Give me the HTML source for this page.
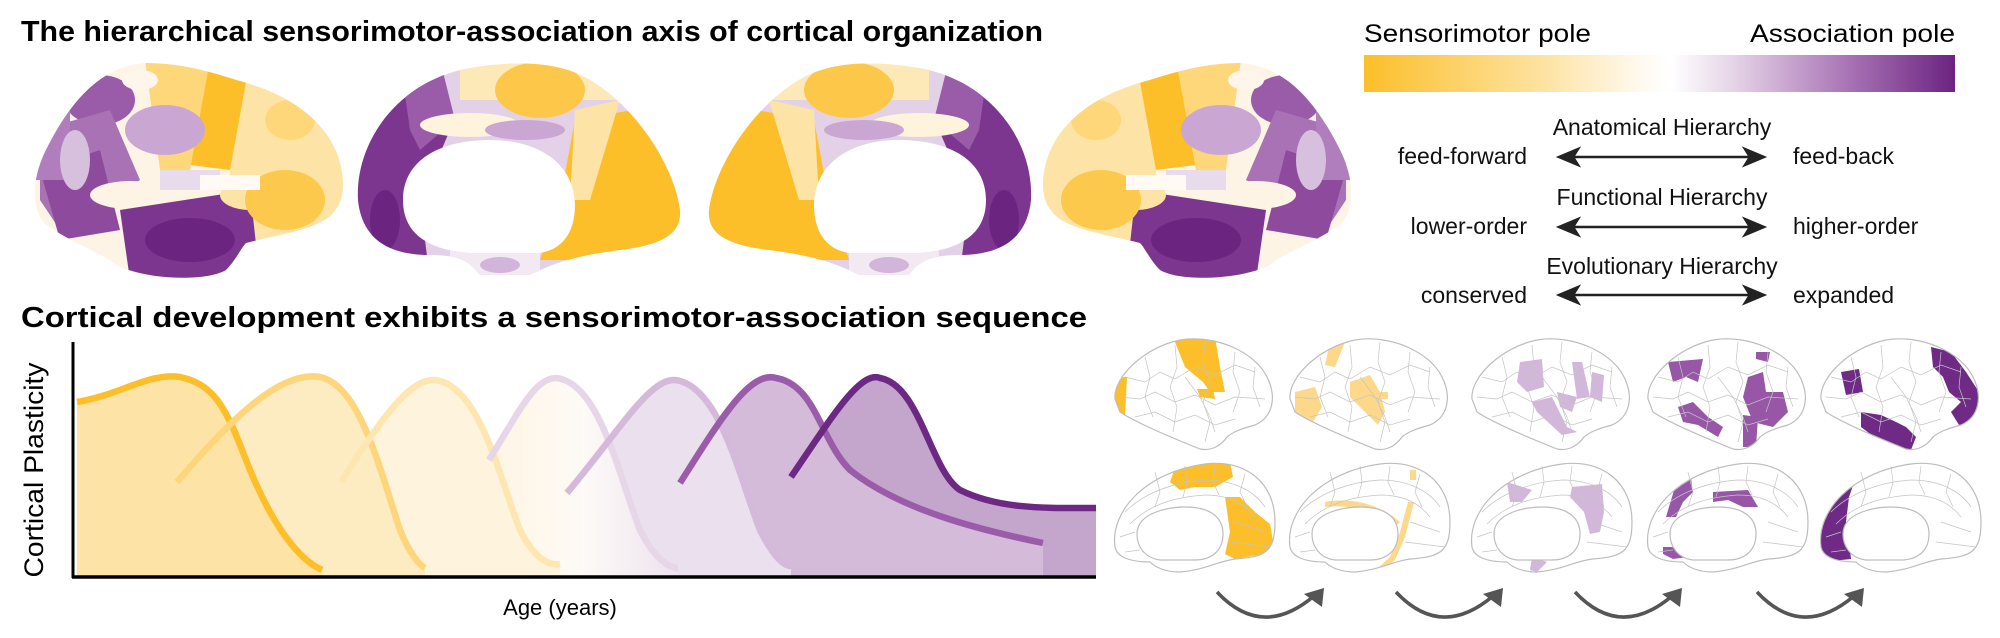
<!DOCTYPE html>
<html><head><meta charset="utf-8"><style>
html,body{margin:0;padding:0;background:#fff;}
svg{display:block;font-family:"Liberation Sans",Arial,sans-serif;}
</style></head><body>
<svg width="2000" height="638" viewBox="0 0 2000 638" xmlns="http://www.w3.org/2000/svg">
<defs>
<linearGradient id="cbar" x1="0" x2="1" y1="0" y2="0">
<stop offset="0" stop-color="#fcbf2a"/><stop offset="0.3" stop-color="#fde2a0"/>
<stop offset="0.47" stop-color="#fffaf0"/><stop offset="0.52" stop-color="#ffffff"/>
<stop offset="0.62" stop-color="#e6d6e8"/><stop offset="0.82" stop-color="#a873b5"/>
<stop offset="1" stop-color="#6b2480"/></linearGradient>
<linearGradient id="g4" x1="0" x2="1"><stop offset="0" stop-color="#fff5e2"/><stop offset="0.5" stop-color="#fdfaf7"/><stop offset="1" stop-color="#ede2ef"/></linearGradient>
<clipPath id="cb1"><path d="M343,183 C341,130 296,95 236,80 C206,70 176,63 146,63 C96,66 66,110 46,150 C31,180 31,210 46,225 C76,245 106,255 116,265 C146,280 206,282 226,270 C236,260 241,248 246,243 C276,235 316,230 331,215 C341,205 343,195 343,183 Z"/></clipPath>
<clipPath id="cb2"><path fill-rule="evenodd" clip-rule="evenodd" d="M358,200 C355,140 400,80 470,68 C520,60 560,62 590,80 C640,110 675,170 680,210 C682,235 660,245 620,250 C580,255 555,262 530,275 L480,275 C470,262 460,255 430,255 C390,255 362,240 358,200 Z M403,200 C403,160 440,140 490,140 C540,140 575,165 575,205 C575,235 560,250 540,253 L470,253 C430,250 403,235 403,200 Z"/></clipPath>
<clipPath id="cl"><path d="M0,62 C-2,40 30,10 65,3 C100,-3 140,15 152,40 C162,60 158,80 140,88 C125,92 118,95 112,100 C105,110 95,114 85,112 C55,100 20,85 5,75 Z"/></clipPath>
<clipPath id="cm"><path clip-rule="evenodd" d="M0,85 C-5,50 30,10 90,2 C130,-3 160,20 160,60 C160,90 150,95 120,97 C100,100 90,108 65,110 C50,110 40,105 35,100 C15,100 2,95 0,85 Z M22,72 C22,50 55,45 70,45 C95,45 108,55 108,72 C108,90 95,98 80,98 L45,98 C30,96 22,85 22,72 Z"/></clipPath>
<g id="latOut"><path d="M0,62 C-2,40 30,10 65,3 C100,-3 140,15 152,40 C162,60 158,80 140,88 C125,92 118,95 112,100 C105,110 95,114 85,112 C55,100 20,85 5,75 Z" fill="none" stroke="#bdbdbd" stroke-width="1.2"/>
<g fill="none" stroke="#c4c4c4" stroke-width="0.7"><path d="M10,40 L30,45 L45,35 L60,42 L80,30 L100,38 L120,28 L140,35"/><path d="M5,60 L25,62 L40,55 L60,65 L80,58 L100,68 L120,60 L150,62"/><path d="M20,80 L40,75 L60,85 L80,78 L100,88 L120,82"/><path d="M30,20 L35,40 L30,60 L38,80"/><path d="M60,8 L62,30 L55,50 L62,70 L58,95"/><path d="M90,5 L88,25 L95,45 L88,65 L95,85 L90,105"/><path d="M120,15 L118,35 L125,55 L118,75"/><path d="M140,30 L138,50 L145,70"/><path d="M70,40 L85,60 L95,80 L100,95"/></g></g>
<g id="medOut"><path fill-rule="evenodd" d="M0,85 C-5,50 30,10 90,2 C130,-3 160,20 160,60 C160,90 150,95 120,97 C100,100 90,108 65,110 C50,110 40,105 35,100 C15,100 2,95 0,85 Z M22,72 C22,50 55,45 70,45 C95,45 108,55 108,72 C108,90 95,98 80,98 L45,98 C30,96 22,85 22,72 Z" fill="none" stroke="#bdbdbd" stroke-width="1.2"/>
<g fill="none" stroke="#c4c4c4" stroke-width="0.7"><path d="M10,50 C30,30 60,20 90,18 C120,18 140,30 150,45"/><path d="M15,62 C35,42 60,35 90,33 C115,33 130,42 140,55"/><path d="M40,10 L45,30 L40,45"/><path d="M70,4 L72,20 L68,35"/><path d="M100,4 L98,20 L104,33"/><path d="M130,12 L125,30 L132,45"/><path d="M5,75 L20,70"/><path d="M120,60 L150,70 M115,80 L155,85"/><path d="M10,90 L25,88"/></g></g>
</defs>

<text x="21" y="41" font-size="29" font-weight="bold" textLength="1022" lengthAdjust="spacingAndGlyphs">The hierarchical sensorimotor-association axis of cortical organization</text>
<text x="21" y="327" font-size="29" font-weight="bold" textLength="1066" lengthAdjust="spacingAndGlyphs">Cortical development exhibits a sensorimotor-association sequence</text>

<text x="1364" y="42" font-size="25" textLength="227" lengthAdjust="spacingAndGlyphs">Sensorimotor pole</text>
<text x="1955" y="42" font-size="25" text-anchor="end" textLength="205" lengthAdjust="spacingAndGlyphs">Association pole</text>
<rect x="1364" y="55" width="591" height="37" fill="url(#cbar)"/>
<g font-size="23" fill="#111">
<text x="1662" y="135" text-anchor="middle">Anatomical Hierarchy</text>
<text x="1527" y="164" text-anchor="end">feed-forward</text>
<text x="1793" y="164">feed-back</text>
<text x="1662" y="205" text-anchor="middle">Functional Hierarchy</text>
<text x="1527" y="234" text-anchor="end">lower-order</text>
<text x="1793" y="234">higher-order</text>
<text x="1662" y="274" text-anchor="middle">Evolutionary Hierarchy</text>
<text x="1527" y="303" text-anchor="end">conserved</text>
<text x="1793" y="303">expanded</text>
</g>
<g stroke="#222" stroke-width="2.5" fill="#222">
<line x1="1565" y1="157" x2="1758" y2="157"/><path d="M1559,157 L1578,149 L1573,157 L1578,165Z"/><path d="M1764,157 L1745,149 L1750,157 L1745,165Z"/>
<line x1="1565" y1="227" x2="1758" y2="227"/><path d="M1559,227 L1578,219 L1573,227 L1578,235Z"/><path d="M1764,227 L1745,219 L1750,227 L1745,235Z"/>
<line x1="1565" y1="295" x2="1758" y2="295"/><path d="M1559,295 L1578,287 L1573,295 L1578,303Z"/><path d="M1764,295 L1745,287 L1750,295 L1745,303Z"/>
</g>

<g id="b1"><g clip-path="url(#cb1)">
<rect x="0" y="40" width="400" height="260" fill="#fdf4e6"/>
<rect x="230" y="60" width="120" height="200" fill="#fde3a6"/>
<path d="M210,60 L250,60 L230,170 L190,165Z" fill="#fcbf2a"/>
<path d="M145,60 L210,60 L190,170 L160,170Z" fill="#fdd77a"/>
<ellipse cx="165" cy="130" rx="40" ry="25" fill="#c9a7d2"/>
<ellipse cx="100" cy="100" rx="35" ry="25" fill="#9a5ca8"/>
<path d="M40,130 L110,110 L140,180 L60,230 L40,200Z" fill="#a972b5"/>
<path d="M40,170 L100,150 L120,230 L60,240Z" fill="#8e4b9e"/>
<rect x="30" y="90" width="40" height="90" fill="#b07ebd"/>
<ellipse cx="130" cy="195" rx="40" ry="14" fill="#fdf4e6"/>
<path d="M120,210 L250,190 L260,280 L130,280Z" fill="#7d3690"/>
<ellipse cx="190" cy="240" rx="45" ry="22" fill="#6b2480"/>
<ellipse cx="250" cy="195" rx="30" ry="15" fill="#fde3a6"/>
<rect x="160" y="170" width="60" height="20" fill="#e8dbeb"/>
<ellipse cx="285" cy="200" rx="40" ry="30" fill="#fcc94d"/>
<rect x="200" y="175" width="60" height="15" fill="#fffaf3"/>
<ellipse cx="290" cy="120" rx="25" ry="20" fill="#fdd77a"/>
<ellipse cx="75" cy="160" rx="15" ry="30" fill="#d7c0de"/>
<ellipse cx="140" cy="80" rx="18" ry="10" fill="#fef6ea"/>
</g></g>
<g id="b2"><g clip-path="url(#cb2)">
<rect x="350" y="60" width="340" height="220" fill="#e3d2e7"/>
<path d="M355,60 L420,60 L450,130 L420,200 L430,280 L350,280Z" fill="#7d3690"/>
<path d="M400,60 L440,60 L455,120 L420,150 L410,130Z" fill="#9a5ca8"/>
<rect x="460" y="60" width="200" height="40" fill="#fde9b8"/>
<ellipse cx="540" cy="90" rx="45" ry="28" fill="#fdc84a"/>
<ellipse cx="470" cy="125" rx="50" ry="12" fill="#fef3dc"/>
<ellipse cx="525" cy="130" rx="40" ry="10" fill="#c9a7d2"/>
<path d="M575,120 L690,100 L690,260 L540,260 L560,200Z" fill="#fcbf2a"/>
<path d="M575,110 L620,100 L590,200 L570,200Z" fill="#fde3a6"/>
<rect x="450" y="250" width="90" height="30" fill="#f2e9f3"/>
<ellipse cx="500" cy="265" rx="20" ry="8" fill="#d2b6da"/>
<ellipse cx="385" cy="220" rx="15" ry="30" fill="#6b2480"/>
</g></g>
<use href="#b1" transform="translate(1386,0) scale(-1,1)"/>
<use href="#b2" transform="translate(1389,0) scale(-1,1)"/>

<g>
<path d="M800,478 C830,420 860,370 883,378 C920,385 930,470 960,490 C1000,510 1050,508 1096,508 L1096,576 L800,576Z" fill="#c4a6cd"/>
<path d="M688,485 C720,420 750,370 776,378 C816,385 820,440 850,470 C900,510 980,530 1043,543 L1043,576 L688,576Z" fill="#d4bbd9"/>
<path d="M567,493 C620,430 650,378 675,380 C720,385 740,480 760,530 C775,560 785,566 791,566 L791,576 L567,576Z" fill="#ebe0ee"/>
<path d="M489,460 C520,410 535,378 556,378 C600,382 620,480 640,530 C655,560 670,568 678,568 L678,576 L489,576Z" fill="url(#g4)"/>
<path d="M341,482 C380,420 410,378 435,380 C480,385 500,480 520,530 C535,560 550,566 560,564 L560,576 L341,576Z" fill="#fef3dd"/>
<path d="M177,482 C230,420 280,370 320,377 C360,385 380,470 400,530 C410,555 420,565 425,568 L425,576 L177,576Z" fill="#fdebc2"/>
<path d="M77,402 C120,395 150,372 180,377 C220,385 230,420 250,470 C275,530 300,560 322,570 L322,576 L77,576Z" fill="#fde4a6"/>
</g>
<g fill="none" stroke-width="6.5" stroke-linecap="butt">
<path d="M77,402 C120,395 150,372 180,377 C220,385 230,420 250,470 C275,530 300,560 322,570" stroke="#fcbf2a"/>
<path d="M177,482 C230,420 280,370 320,377 C360,385 380,470 400,530 C410,555 420,565 425,568" stroke="#fdd57a"/>
<path d="M341,482 C380,420 410,378 435,380 C480,385 500,480 520,530 C535,560 550,566 560,564" stroke="#fde6b0"/>
<path d="M489,460 C520,410 535,378 556,378 C600,382 620,480 640,530 C655,560 670,568 678,568" stroke="#e6d6e8"/>
<path d="M567,493 C620,430 650,378 675,380 C720,385 740,480 760,530 C775,560 785,566 791,566" stroke="#d4b9da"/>
<path d="M680,483 C720,420 750,370 776,378 C816,385 820,440 850,470 C900,510 980,530 1043,543" stroke="#9a5ca8"/>
<path d="M791,477 C830,420 860,370 880,378 C920,385 930,470 960,490 C1000,510 1050,508 1096,508" stroke="#6d2883"/>
</g>
<line x1="73" y1="342" x2="73" y2="578" stroke="#000" stroke-width="3"/>
<line x1="72" y1="577" x2="1096" y2="577" stroke="#000" stroke-width="3.5"/>
<text x="560" y="615" font-size="22" text-anchor="middle">Age (years)</text>
<text transform="translate(43,470) rotate(-90)" font-size="27" text-anchor="middle" textLength="215" lengthAdjust="spacingAndGlyphs">Cortical Plasticity</text>

<g transform="translate(1115,337)"><g clip-path="url(#cl)"><path d="M58,0 L100,0 L105,30 L110,55 L95,55 L88,45 L70,30Z" fill="#fcbf2a"/><path d="M82,52 L98,52 L100,62 L85,60Z" fill="#fcbf2a"/><path d="M0,40 L12,40 L10,80 L20,100 L0,100Z" fill="#fcbf2a"/></g><use href="#latOut"/></g>
<g transform="translate(1290,337)"><g clip-path="url(#cl)"><path d="M40,5 L55,5 L45,30 L35,28Z" fill="#fed88a"/><path d="M5,55 L25,50 L32,70 L20,90 L5,80Z" fill="#fed88a"/><path d="M60,45 L80,38 L90,55 L95,75 L88,88 L70,70 L60,60Z" fill="#fed88a"/><path d="M85,55 L98,55 L98,62 L85,62Z" fill="#fed88a"/></g><use href="#latOut"/></g>
<g transform="translate(1472,337)"><g clip-path="url(#cl)"><path d="M48,25 L70,22 L72,50 L55,55 L45,45Z" fill="#d3b7db"/><path d="M100,25 L110,25 L118,60 L105,62Z" fill="#d3b7db"/><path d="M120,35 L132,38 L130,65 L118,60Z" fill="#d3b7db"/><path d="M60,65 L80,60 L95,90 L105,95 L90,98 L65,75Z" fill="#d3b7db"/><path d="M85,55 L105,60 L100,75 L88,70Z" fill="#d3b7db"/></g><use href="#latOut"/></g>
<g transform="translate(1648,337)"><g clip-path="url(#cl)"><path d="M20,25 L55,22 L50,45 L38,40 L25,45Z" fill="#9756a6"/><path d="M108,15 L122,15 L120,25 L108,22Z" fill="#9756a6"/><path d="M100,40 L115,35 L118,55 L135,55 L140,75 L125,90 L105,85 L95,60Z" fill="#9756a6"/><path d="M30,70 L45,65 L60,80 L75,90 L70,100 L50,88 L35,85Z" fill="#9756a6"/><path d="M95,78 L110,80 L108,110 L95,110Z" fill="#9756a6"/></g><use href="#latOut"/></g>
<g transform="translate(1821,337)"><g clip-path="url(#cl)"><path d="M110,10 L130,15 L145,35 L158,55 L155,85 L138,88 L130,75 L140,65 L128,55 L122,40 L112,30Z" fill="#6e2a84"/><path d="M20,35 L38,32 L42,55 L25,58Z" fill="#6e2a84"/><path d="M40,75 L60,78 L75,85 L85,90 L95,100 L90,113 L60,105 L40,90Z" fill="#6e2a84"/></g><use href="#latOut"/></g>
<g transform="translate(1115,462)"><g clip-path="url(#cm)"><path d="M62,0 L115,0 L118,15 L100,25 L80,25 L65,28 L55,20Z" fill="#fcbf2a"/><path d="M110,35 L125,35 L140,50 L155,62 L160,90 L120,97 L110,92 L115,70Z" fill="#fcbf2a"/></g><use href="#medOut"/></g>
<g transform="translate(1290,462)"><g clip-path="url(#cm)"><path d="M35,40 C60,35 90,42 110,60 L106,64 C90,50 60,42 35,45Z" fill="#fed88a"/><path d="M118,40 L124,40 L115,75 L105,98 L90,110 L88,106 L100,95 L110,70Z" fill="#fed88a"/><path d="M120,8 L126,8 L126,18 L120,18Z" fill="#fed88a"/></g><use href="#medOut"/></g>
<g transform="translate(1472,462)"><g clip-path="url(#cm)"><path d="M35,20 L60,28 L50,40 L38,40Z" fill="#d3b7db"/><path d="M100,25 L130,22 L132,50 L128,70 L118,72 L112,50 L98,35Z" fill="#d3b7db"/><path d="M60,95 L75,100 L65,110 L58,108Z" fill="#d3b7db"/></g><use href="#medOut"/></g>
<g transform="translate(1648,462)"><g clip-path="url(#cm)"><path d="M30,15 L42,10 L45,30 L35,40 L28,55 L18,55Z" fill="#9756a6"/><path d="M65,30 L100,28 L110,45 L95,45 L80,38 L65,40Z" fill="#9756a6"/><path d="M15,85 L30,85 L40,95 L25,97 L15,92Z" fill="#9756a6"/></g><use href="#medOut"/></g>
<g transform="translate(1821,462)"><g clip-path="url(#cm)"><path d="M0,30 L35,15 L28,35 L25,60 L28,80 L30,97 L0,100Z" fill="#6e2a84"/></g><use href="#medOut"/></g>

<g fill="none" stroke="#555" stroke-width="3.5">
<path d="M1217,592 Q1262,640 1314,596"/><path d="M1396,592 Q1441,640 1493,596"/><path d="M1575,592 Q1620,640 1672,596"/><path d="M1757,592 Q1802,640 1854,596"/>
</g>
<g fill="#555">
<path d="M1324,588 L1304,594 L1322,607Z"/><path d="M1503,588 L1483,594 L1501,607Z"/><path d="M1682,588 L1662,594 L1680,607Z"/><path d="M1864,588 L1844,594 L1862,607Z"/>
</g>
</svg>
</body></html>
